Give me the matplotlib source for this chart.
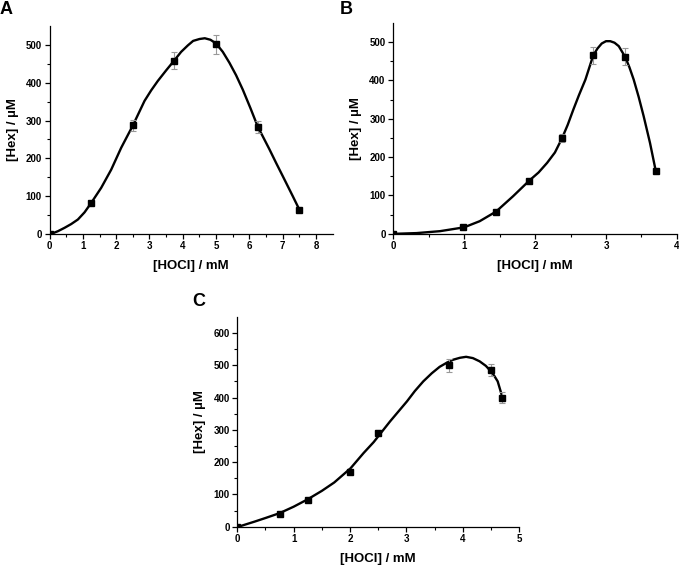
import matplotlib.pyplot as plt
import numpy as np

plt.rcParams['font.family'] = ['Liberation Sans', 'DejaVu Sans']
plt.rcParams['font.weight'] = 'bold'

# panel A
a_x = [0, 1.25, 2.5, 3.75, 5.0, 6.25, 7.5]
a_y = [0, 83, 287, 459, 502, 283, 63]
a_err = [0, 3, 15, 22, 25, 15, 3]
a_fit_x = [0.05, 0.25, 0.45, 0.65, 0.85, 1.05, 1.25, 1.55, 1.85, 2.15, 2.5, 2.85,
           3.05, 3.25, 3.5, 3.75, 3.95, 4.15, 4.31, 4.5, 4.66, 4.83, 5.0, 5.2,
           5.4, 5.6, 5.8, 6.03, 6.25, 6.6, 6.8, 7.0, 7.3, 7.5]
a_fit_y = [0, 7, 16, 26, 38, 57, 82, 122, 170, 228, 287, 352,
           380, 405, 433, 460, 482, 499, 511, 516, 518, 514, 504, 482,
           453, 420, 382, 333, 284, 224, 188, 153, 100, 64]

# panel B
b_x = [0, 0.98, 1.45, 1.92, 2.38, 2.82, 3.27, 3.71]
b_y = [0, 17, 57, 139, 250, 465, 461, 165]
b_err = [0, 2, 3, 5, 10, 22, 22, 5]
b_fit_x = [0, 0.33, 0.66, 1.0, 1.22, 1.45, 1.69, 1.92, 2.05, 2.17, 2.28, 2.38,
           2.46, 2.54, 2.62, 2.71, 2.82, 2.88, 2.94, 3.0, 3.06, 3.12, 3.18,
           3.27, 3.33, 3.39, 3.46, 3.53, 3.62, 3.70]
b_fit_y = [0, 2, 7, 17, 33, 58, 98, 139, 160, 185, 212, 249,
           284, 324, 362, 402, 465, 483, 496, 502, 502, 498, 489,
           461, 434, 402, 357, 307, 237, 165]

# panel C
c_x = [0, 0.75, 1.25, 2.0, 2.5, 3.75, 4.5, 4.69]
c_y = [0, 39, 84, 170, 290, 500, 486, 400]
c_err = [0, 3, 3, 8, 10, 20, 18, 17]
c_fit_x = [0.02, 0.31, 0.5, 0.75, 1.0, 1.25, 1.5, 1.72, 2.01, 2.24, 2.42, 2.71,
           2.86, 3.01, 3.15, 3.30, 3.45, 3.59, 3.72, 3.83, 3.95, 4.06, 4.18,
           4.30, 4.41, 4.50, 4.56, 4.62, 4.69]
c_fit_y = [0, 16, 27, 42, 62, 85, 111, 137, 181, 228, 262, 326,
           357, 388, 420, 450, 475, 495, 508, 517, 523, 526, 522,
           512, 498, 481, 467, 450, 409]

fig = plt.figure(figsize=(6.79, 5.69), dpi=100)


def panel(rect, x, y, err, fx, fy, xlim, ylim, xt, yt, letter, lpos):
    ax = fig.add_axes(rect)
    ax.plot(fx, fy, color='black', lw=1.7, zorder=2, solid_joinstyle='round')
    ax.errorbar(x, y, yerr=err, fmt='none', ecolor='#999999', elinewidth=0.8,
                capsize=2.5, capthick=0.8, zorder=3)
    ax.plot(x, y, 's', color='black', ms=4, zorder=4)
    ax.set_xlim(*xlim)
    ax.set_ylim(*ylim)
    ax.set_xticks(xt)
    ax.set_yticks(yt)
    ax.set_xticks(np.array(xt[:-1]) + (xt[1] - xt[0]) / 2, minor=True)
    ax.set_yticks(np.array(yt[:-1]) + (yt[1] - yt[0]) / 2, minor=True)
    for s in ['top', 'right']:
        ax.spines[s].set_visible(False)
    for s in ['left', 'bottom']:
        ax.spines[s].set_linewidth(0.9)
    ax.tick_params(which='major', direction='out', length=3.5, width=0.9,
                   labelsize=7, pad=2)
    ax.tick_params(which='minor', direction='out', length=2, width=0.8)
    ax.set_xlabel('[HOCl] / mM', fontsize=9.5, fontweight='bold', labelpad=6)
    ax.set_ylabel('[Hex] / µM', fontsize=9.5, fontweight='bold', labelpad=5)
    fig.text(lpos[0], lpos[1], letter, fontsize=13, fontweight='bold',
             ha='left', va='top')
    return ax


panel([0.073, 0.589, 0.417, 0.365], a_x, a_y, a_err, a_fit_x, a_fit_y,
      (0, 8.5), (0, 550), [0, 1, 2, 3, 4, 5, 6, 7, 8], [0, 100, 200, 300, 400, 500],
      'A', (0.0, 0.999))
panel([0.579, 0.589, 0.418, 0.371], b_x, b_y, b_err, b_fit_x, b_fit_y,
      (0, 4), (0, 550), [0, 1, 2, 3, 4], [0, 100, 200, 300, 400, 500],
      'B', (0.500, 0.999))
panel([0.3495, 0.0743, 0.415, 0.369], c_x, c_y, c_err, c_fit_x, c_fit_y,
      (0, 5), (0, 650), [0, 1, 2, 3, 4, 5], [0, 100, 200, 300, 400, 500, 600],
      'C', (0.283, 0.485))

fig.savefig('out.png', dpi=100)
